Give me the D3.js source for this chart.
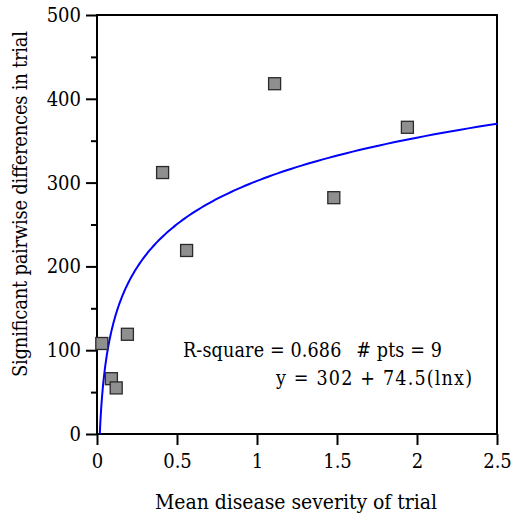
<!DOCTYPE html>
<html><head><meta charset="utf-8">
<script src="https://cdn.jsdelivr.net/npm/d3@7"></script>
<style>body{margin:0;background:#fff}svg{display:block}</style>
</head><body><svg id="c" width="513" height="518"></svg>
<script>
const xs = [0.03, 0.09, 0.12, 0.19, 0.41, 0.56, 1.11, 1.48, 1.94];
const ys = [108, 66, 55, 119, 312, 219, 418, 282, 366];
const xTicks = [0, 0.5, 1, 1.5, 2, 2.5];
const xTickLabels = ["0", "0.5", "1", "1.5", "2", "2.5"];
const yTicks = [0, 100, 200, 300, 400, 500];
const yMinor = [50, 150, 250, 350, 450];
const fitA = 302, fitB = 74.5;
const annot1 = "R-square = 0.686\u2002 # pts = 9";
const annot2 = "y = 302 + 74.5(lnx)";
const xTitle = "Mean disease severity of trial";
const yTitle = "Significant pairwise differences in trial";

const FONT = "'DejaVu Serif Condensed', 'DejaVu Serif', serif";
const svg = d3.select("#c");
const L = 97, R = 497, T = 15, B = 434;
const x = d3.scaleLinear().domain([0, 2.5]).range([L, R]);
const y = d3.scaleLinear().domain([0, 500]).range([B, T]);

svg.append("rect").attr("x", L).attr("y", T).attr("width", R - L).attr("height", B - T)
  .attr("fill", "none").attr("stroke", "#000").attr("stroke-width", 2);

const xa = svg.append("g").attr("transform", `translate(0,${B})`)
  .call(d3.axisBottom(x).tickValues(xTicks).tickFormat((d, i) => xTickLabels[i]).tickSize(11).tickPadding(9));
const ya = svg.append("g").attr("transform", `translate(${L},0)`)
  .call(d3.axisLeft(y).tickValues(yTicks).tickFormat(d3.format("d")).tickSize(11).tickPadding(5));
const ym = svg.append("g").attr("transform", `translate(${L},0)`)
  .call(d3.axisLeft(y).tickValues(yMinor).tickFormat("").tickSize(6));
[xa, ya, ym].forEach(g => {
  g.attr("font-family", null).attr("font-size", null);
  g.select(".domain").remove();
  g.selectAll("line").attr("stroke", "#000").attr("stroke-width", 2);
  g.selectAll("text").style("font-size", "20px").style("font-family", FONT).attr("fill", "#000");
});

const x0 = Math.exp(-fitA / fitB);
const curveX = d3.range(0, 201).map(i => x0 * Math.pow(2.5 / x0, i / 200));
svg.append("path").datum(curveX)
  .attr("d", d3.line().x(d => x(d)).y(d => y(fitA + fitB * Math.log(d))))
  .attr("fill", "none").attr("stroke", "#0000ff").attr("stroke-width", 2);

const s = 12;
svg.append("g").selectAll("rect").data(xs).join("rect")
  .attr("x", (d) => x(d) - s / 2).attr("y", (d, i) => y(ys[i]) - s / 2)
  .attr("width", s).attr("height", s)
  .attr("fill", "#8f8f8f").attr("stroke", "#2a2a2a").attr("stroke-width", 1.3);

function txt(xp, yp, size, anchor, str, len) {
  const t = svg.append("text").attr("x", xp).attr("y", yp).attr("text-anchor", anchor)
    .style("font-size", size + "px").style("font-family", FONT).attr("fill", "#000").text(str);
  if (len) t.attr("textLength", len).attr("lengthAdjust", "spacing");
  return t;
}
txt(183, 357, 19.5, "start", annot1, 259);
txt(472, 385, 19.5, "end", annot2, 196);
txt((L + R) / 2 - 1, 509, 21, "middle", xTitle, 282);
txt(0, 0, 20, "middle", yTitle, 346).attr("transform", `translate(27,204) rotate(-90)`);
</script></body></html>
